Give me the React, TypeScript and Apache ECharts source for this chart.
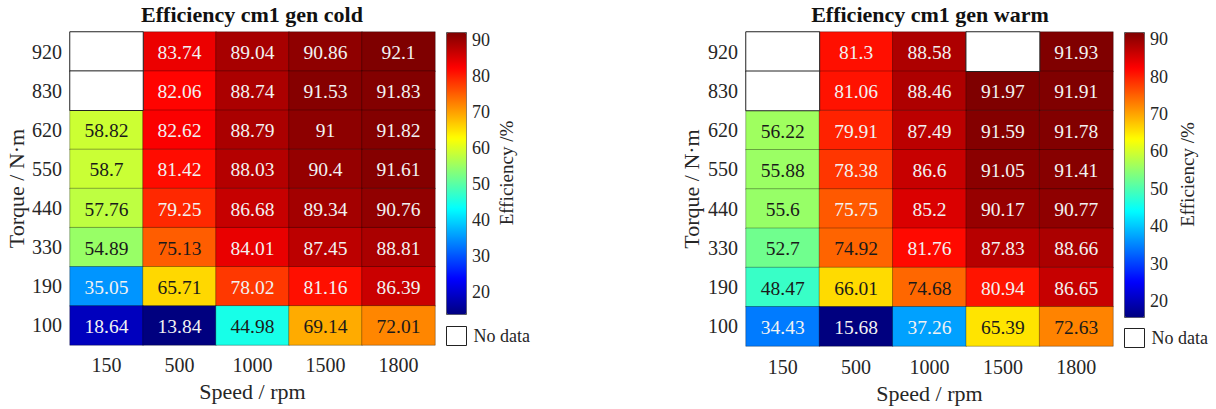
import React, { useEffect, useRef } from "react";
import * as echarts from "echarts";

const speeds = ["150", "500", "1000", "1500", "1800"];
const torques = ["920", "830", "620", "550", "440", "330", "190", "100"];

// rows listed top (920) to bottom (100), columns = speeds
const coldRows: (number | null)[][] = [
  [null, 83.74, 89.04, 90.86, 92.1],
  [null, 82.06, 88.74, 91.53, 91.83],
  [58.82, 82.62, 88.79, 91, 91.82],
  [58.7, 81.42, 88.03, 90.4, 91.61],
  [57.76, 79.25, 86.68, 89.34, 90.76],
  [54.89, 75.13, 84.01, 87.45, 88.81],
  [35.05, 65.71, 78.02, 81.16, 86.39],
  [18.64, 13.84, 44.98, 69.14, 72.01],
];

const warmRows: (number | null)[][] = [
  [null, 81.3, 88.58, null, 91.93],
  [null, 81.06, 88.46, 91.97, 91.91],
  [56.22, 79.91, 87.49, 91.59, 91.78],
  [55.88, 78.38, 86.6, 91.05, 91.41],
  [55.6, 75.75, 85.2, 90.17, 90.77],
  [52.7, 74.92, 81.76, 87.83, 88.66],
  [48.47, 66.01, 74.68, 80.94, 86.65],
  [34.43, 15.68, 37.26, 65.39, 72.63],
];

const jet = ["#00007F", "#0000FF", "#007FFF", "#00FFFF", "#7FFF7F", "#FFFF00", "#FF7F00", "#FF0000", "#7F0000"];
const FONT = "Liberation Serif";
const TXT = "#262626";

function extent(rows: (number | null)[][]) {
  const vals = rows.flat().filter((v): v is number => v !== null);
  return [Math.min(...vals), Math.max(...vals)];
}

function build(rows: (number | null)[][], min: number, max: number) {
  const main: any[] = [];
  const missing: any[] = [];
  rows.forEach((row, r) => {
    row.forEach((v, c) => {
      if (v === null) {
        missing.push([c, r, 0]);
      } else {
        const t = (v - min) / (max - min);
        const dark = t > 0.34 && t < 0.785;
        main.push({ value: [c, r, v], label: { color: dark ? "#1a1a1a" : "#f2f2f2" } });
      }
    });
  });
  return { main, missing };
}

export default function App() {
  const ref = useRef<HTMLDivElement>(null);
  useEffect(() => {
    if (!ref.current) return;
    const chart = echarts.init(ref.current, null, { renderer: "svg" });
    const [cMin, cMax] = extent(coldRows);
    const [wMin, wMax] = extent(warmRows);
    const cold = build(coldRows, cMin, cMax);
    const warm = build(warmRows, wMin, wMax);

    const tickStyle = { fontSize: 20, fontFamily: FONT, color: TXT };
    const nameStyle = { fontSize: 22, fontFamily: FONT, color: TXT };
    const barTick = { fontSize: 18, fontFamily: FONT, color: TXT };
    const barName = { fontSize: 19, fontFamily: FONT, color: TXT };
    const catX = (gi: number, nameGap: number, margin: number) => ({
      type: "category",
      gridIndex: gi,
      data: speeds,
      name: "Speed / rpm",
      nameLocation: "middle",
      nameGap,
      nameTextStyle: nameStyle,
      axisLine: { show: false },
      axisTick: { show: false },
      axisLabel: { ...tickStyle, margin },
    });
    const catY = (gi: number, nameGap: number) => ({
      type: "category",
      gridIndex: gi,
      data: torques,
      inverse: true,
      name: "Torque / N·m",
      nameLocation: "middle",
      nameGap,
      nameTextStyle: nameStyle,
      axisLine: { show: false },
      axisTick: { show: false },
      axisLabel: { ...tickStyle, margin: 8 },
    });
    const barY = (gi: number, min: number, max: number, nameGap: number) => ({
      type: "value",
      gridIndex: gi,
      position: "right",
      min,
      max,
      splitNumber: 8,
      name: "Efficiency /%",
      nameLocation: "middle",
      nameRotate: 90,
      nameGap,
      nameTextStyle: barName,
      axisLine: { show: false },
      axisTick: { show: false },
      splitLine: { show: false },
      axisLabel: { ...barTick, margin: 6, showMinLabel: false, showMaxLabel: false },
    });
    const mainSeries = (xi: number, data: any[]) => ({
      type: "heatmap",
      xAxisIndex: xi,
      yAxisIndex: xi,
      data,
      label: {
        show: true,
        fontSize: 19.5,
        fontFamily: FONT,
        offset: [0, 1],
        formatter: (p: any) => String(p.value[2]),
      },
      itemStyle: { borderColor: "rgba(0,0,0,0.3)", borderWidth: 1 },
      emphasis: { disabled: true },
    });
    const missSeries = (xi: number, data: any[]) => ({
      type: "heatmap",
      name: "No data",
      xAxisIndex: xi,
      yAxisIndex: xi,
      data,
      label: { show: false },
      itemStyle: { color: "#ffffff", borderColor: "#222", borderWidth: 1 },
      emphasis: { disabled: true },
    });
    const vm = (si: number, min: number, max: number, left: number, h: number) => ({
      type: "continuous",
      seriesIndex: si,
      min,
      max,
      left,
      top: 32,
      itemWidth: 20,
      itemHeight: h,
      padding: 0,
      calculable: false,
      hoverLink: false,
      inRange: { color: jet },
      borderColor: "#555",
      borderWidth: 1,
    });
    const lg = (left: number, top: number) => ({
      data: ["No data"],
      left,
      top,
      padding: 0,
      itemWidth: 20,
      itemHeight: 19,
      icon: "rect",
      selectedMode: false,
      itemStyle: { color: "#ffffff", borderColor: "#222", borderWidth: 1 },
      textStyle: { ...barTick, padding: [0, 0, 0, 2] },
    });
    const titleStyle = { fontSize: 22, fontWeight: "bold", fontFamily: FONT, color: "#111" };

    chart.setOption({
      animation: false,
      backgroundColor: "#ffffff",
      title: [
        { text: "Efficiency cm1 gen cold", left: 252, top: 3, padding: 0, textAlign: "center", textStyle: titleStyle },
        { text: "Efficiency cm1 gen warm", left: 930, top: 3, padding: 0, textAlign: "center", textStyle: titleStyle },
      ],
      grid: [
        { left: 70, top: 32, width: 365, height: 313 },
        { left: 446, top: 32, width: 20, height: 282 },
        { left: 746, top: 32, width: 367, height: 315 },
        { left: 1124, top: 32, width: 20, height: 285 },
      ],
      xAxis: [
        catX(0, 35, 10),
        { type: "value", gridIndex: 1, show: false },
        catX(2, 36, 11),
        { type: "value", gridIndex: 3, show: false },
      ],
      yAxis: [catY(0, 43), barY(1, cMin, cMax, 31), catY(2, 44), barY(3, wMin, wMax, 34)],
      visualMap: [
        vm(0, cMin, cMax, 446, 282),
        vm(2, wMin, wMax, 1124, 285),
        {
          type: "piecewise",
          show: false,
          seriesIndex: [1, 3],
          dimension: 2,
          pieces: [{ min: -1, max: 1 }],
          inRange: { color: ["#ffffff"] },
        },
      ],
      legend: [lg(446, 326), lg(1124, 328)],
      series: [
        mainSeries(0, cold.main),
        missSeries(0, cold.missing),
        mainSeries(2, warm.main),
        missSeries(2, warm.missing),
      ],
    });
    return () => chart.dispose();
  }, []);
  return <div ref={ref} style={{ position: "absolute", left: 0, top: 0, width: 1216, height: 409 }} />;
}
